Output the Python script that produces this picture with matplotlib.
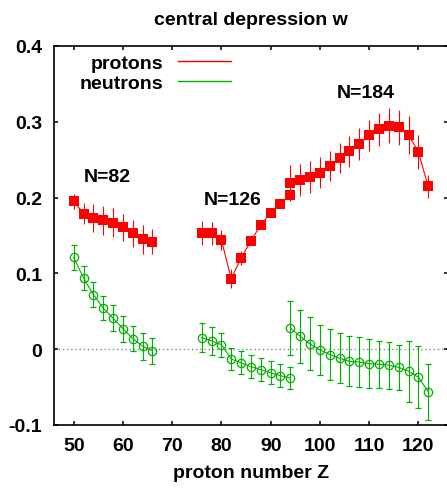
import matplotlib
matplotlib.use('Agg')
import matplotlib.pyplot as plt
from matplotlib.lines import Line2D

plt.rcParams['font.family'] = ['Liberation Sans', 'DejaVu Sans']
plt.rcParams['font.weight'] = 'bold'
plt.rcParams['font.size'] = 14

# protons (red squares), three groups around N=82, N=126, N=184
zp1 = [50, 52, 54, 56, 58, 60, 62, 64, 66]
wp1 = [0.195, 0.179, 0.173, 0.170, 0.167, 0.161, 0.153, 0.145, 0.142]
ep1 = [0.010, 0.014, 0.019, 0.019, 0.019, 0.018, 0.018, 0.019, 0.017]
zp2 = [76, 78, 80, 82, 84, 86, 88, 90, 92, 94]
wp2 = [0.153, 0.153, 0.144, 0.093, 0.120, 0.143, 0.164, 0.180, 0.191, 0.204]
ep2 = [0.016, 0.015, 0.013, 0.0125, 0.009, 0.005, 0.004, 0.004, 0.004, 0.004]
zp3 = [94, 96, 98, 100, 102, 104, 106, 108, 110, 112, 114, 116, 118, 120, 122]
wp3 = [0.219, 0.223, 0.227, 0.233, 0.242, 0.252, 0.261, 0.271, 0.282, 0.290,
       0.295, 0.293, 0.283, 0.260, 0.215]
ep3 = [0.024, 0.021, 0.021, 0.020, 0.020, 0.020, 0.020, 0.021, 0.021, 0.022,
       0.023, 0.023, 0.025, 0.022, 0.015]

# neutrons (green open circles)
zn1 = [50, 52, 54, 56, 58, 60, 62, 64, 66]
wn1 = [0.121, 0.094, 0.072, 0.054, 0.041, 0.027, 0.014, 0.004, -0.002]
en1 = [0.016, 0.016, 0.016, 0.016, 0.017, 0.017, 0.017, 0.018, 0.017]
zn2 = [76, 78, 80, 82, 84, 86, 88, 90, 92, 94]
wn2 = [0.015, 0.011, 0.006, -0.013, -0.018, -0.023, -0.027, -0.031, -0.035, -0.038]
en2 = [0.019, 0.018, 0.016, 0.014, 0.015, 0.015, 0.015, 0.015, 0.015, 0.015]
zn3 = [94, 96, 98, 100, 102, 104, 106, 108, 110, 112, 114, 116, 118, 120, 122]
wn3 = [0.028, 0.017, 0.007, -0.001, -0.007, -0.012, -0.016, -0.017, -0.019,
       -0.020, -0.021, -0.024, -0.029, -0.037, -0.056]
en3 = [0.036, 0.035, 0.035, 0.033, 0.033, 0.033, 0.033, 0.033, 0.032, 0.031,
       0.031, 0.030, 0.040, 0.041, 0.037]

labels = ['N=82', 'N=126', 'N=184']
label_z = [56.9, 82.2, 109.3]
label_w = [0.228, 0.198, 0.339]

red = '#ff0000'
green = '#00b000'

fig = plt.figure(figsize=(4.47, 4.89), dpi=100)
ax = fig.add_axes([54/447, 63/489, 393.9/447, 379/489])

ax.axhline(0, color='#888888', lw=1, ls=(0, (1, 2)), zorder=1)

for z, w, e in [(zp1, wp1, ep1), (zp2, wp2, ep2), (zp3, wp3, ep3)]:
    ax.errorbar(z, w, yerr=e, fmt='s-', color=red, ms=6.5, mew=0, lw=0.8,
                ecolor=red, elinewidth=0.8, capsize=2.2, capthick=0.8, zorder=3)
for z, w, e in [(zn1, wn1, en1), (zn2, wn2, en2), (zn3, wn3, en3)]:
    ax.errorbar(z, w, yerr=e, fmt='o-', color=green, ms=6, mfc='none', mew=0.9,
                lw=0.8, ecolor=green, elinewidth=0.8, capsize=2.2, capthick=0.8,
                zorder=2)

for t, x, y in zip(labels, label_z, label_w):
    ax.text(x, y, t, ha='center', va='center', fontsize=14, fontweight='bold')

ax.set_xlim(46, 126)
ax.set_ylim(-0.1, 0.4)
ax.set_xticks(range(50, 121, 10))
ax.set_yticks([-0.1, 0, 0.1, 0.2, 0.3, 0.4])
ax.set_yticklabels(['-0.1', '0', '0.1', '0.2', '0.3', '0.4'])
ax.tick_params(axis='x', direction='in', top=True, length=3, width=1.1, pad=9)
ax.tick_params(axis='y', direction='in', right=True, length=3, width=1.1, pad=8.5)
for s in ax.spines.values():
    s.set_linewidth(1.2)

ax.set_title('central depression w', fontsize=14, fontweight='bold', pad=16)
ax.set_xlabel('proton number Z', fontsize=14, fontweight='bold', labelpad=7)

handles = [Line2D([], [], color=red, lw=1), Line2D([], [], color=green, lw=1)]
ax.legend(handles, ['protons', 'neutrons'], loc='upper right',
          bbox_to_anchor=(231/447, 1 - 55/489), bbox_transform=fig.transFigure,
          frameon=False, markerfirst=False, borderpad=0, borderaxespad=0,
          handlelength=2.73, handletextpad=0.76, labelspacing=0.15,
          prop={'weight': 'bold', 'size': 14})

fig.savefig('out.png', dpi=100)
